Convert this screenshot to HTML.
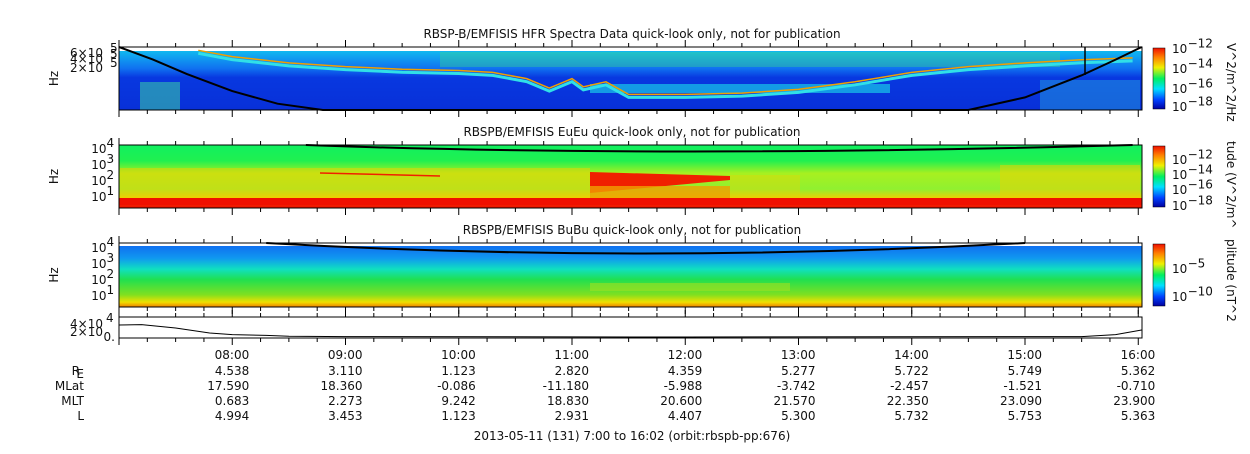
<!DOCTYPE html>
<html><head><meta charset="utf-8"><style>
body{margin:0;background:#fff;width:1250px;height:449px;overflow:hidden;font-family:"Liberation Sans","DejaVu Sans",sans-serif}
svg text{font-family:"DejaVu Sans","Liberation Sans",sans-serif;font-size:12px;fill:#111}
</style></head><body>
<svg id="c" width="1250" height="449" xmlns="http://www.w3.org/2000/svg">
<defs>
<linearGradient id="jet" x1="0" y1="1" x2="0" y2="0">
<stop offset="0" stop-color="#0000a0"/><stop offset="0.15" stop-color="#0040ff"/><stop offset="0.33" stop-color="#00e0ff"/><stop offset="0.5" stop-color="#00f060"/><stop offset="0.68" stop-color="#f0f000"/><stop offset="0.85" stop-color="#ff8000"/><stop offset="1" stop-color="#f01000"/></linearGradient>
<linearGradient id="g1" x1="0" y1="0" x2="0" y2="1">
<stop offset="0" stop-color="#10b8f0"/><stop offset="0.3" stop-color="#1070f0"/><stop offset="0.45" stop-color="#0838e0"/><stop offset="1" stop-color="#0830d8"/></linearGradient>
<linearGradient id="g2" x1="0" y1="0" x2="0" y2="1">
<stop offset="0" stop-color="#10f060"/><stop offset="0.25" stop-color="#20f050"/><stop offset="0.45" stop-color="#a8f020"/><stop offset="0.7" stop-color="#90f030"/><stop offset="0.85" stop-color="#f0d000"/><stop offset="0.9" stop-color="#f03000"/><stop offset="1" stop-color="#f01000"/></linearGradient>
<linearGradient id="g3" x1="0" y1="0" x2="0" y2="1">
<stop offset="0" stop-color="#1070f0"/><stop offset="0.2" stop-color="#1098f0"/><stop offset="0.38" stop-color="#10e0c0"/><stop offset="0.55" stop-color="#20e050"/><stop offset="0.8" stop-color="#80e020"/><stop offset="0.92" stop-color="#f0e000"/><stop offset="1" stop-color="#f08000"/></linearGradient>
</defs>
<g id="plots"></g>
</svg>
<script>
var hours=["08:00","09:00","10:00","11:00","12:00","13:00","14:00","15:00","16:00"];
var hourVals=[1,2,3,4,5,6,7,8,9];
var rE=["4.538","3.110","1.123","2.820","4.359","5.277","5.722","5.749","5.362"];
var mLat=["17.590","18.360","-0.086","-11.180","-5.988","-3.742","-2.457","-1.521","-0.710"];
var mlt=["0.683","2.273","9.242","18.830","20.600","21.570","22.350","23.090","23.900"];
var lVals=["4.994","3.453","1.123","2.931","4.407","5.300","5.732","5.753","5.363"];
// fce curve panel1 (fraction of panel height from top)
var fceT=[0,0.3,0.6,1,1.4,1.8,2.6,7.5,8,8.5,8.8,9.03];
var fceV=[-0.05,0.2,0.43,0.7,0.9,1.0,1.1,1.1,0.8,0.45,0.2,0.0];
// upper-hybrid line panel1 (fraction from top)
var uhT=[0.7,1,1.5,2,2.5,3,3.3,3.6,3.8,4.0,4.1,4.3,4.5,5,5.5,6,6.5,7,7.5,8,8.5,8.95];
var uhV=[0.1,0.2,0.3,0.36,0.4,0.42,0.45,0.55,0.7,0.55,0.68,0.6,0.8,0.8,0.78,0.72,0.6,0.45,0.36,0.3,0.25,0.22];
// density line panel4 (fraction of 4e4)
var denT=[0,0.2,0.5,0.8,1,1.3,1.5,2,5,8.5,8.8,9.03];
var denV=[0.6,0.62,0.45,0.2,0.12,0.08,0.04,0.02,0.0,0.02,0.12,0.35];
var X0=119,X1=1142,T1=9.033;
function sx(t){return X0+(X1-X0)*t/T1;}
var G=document.getElementById('plots'),NS="http://www.w3.org/2000/svg";
function el(tag,a,par){var e=document.createElementNS(NS,tag);for(var k in a)e.setAttribute(k,a[k]);(par||G).appendChild(e);return e;}
function tx(s,x,y,anc,size,par){var t=el('text',{x:x,y:y,'text-anchor':anc||'start'},par);if(size)t.setAttribute('font-size',size);t.textContent=s;return t;}
function pw(base,exp,xr,y,size){ // right-aligned power label ending at xr
  var es=size*0.8;var ew=exp.length*es*0.62;
  tx(base,xr-ew,y,'end',size);tx(exp,xr-ew,y-size*0.45,'start',es);}
function pwl(base,exp,x,y,size){tx(base,x,y,'start',size);tx(exp,x+size*1.3,y-size*0.45,'start',size*0.8);}
var panels=[{y:47,h:63,fill:'url(#g1)',top:51,title:"RBSP-B/EMFISIS  HFR Spectra Data quick-look only, not for publication",cb:"V^2/m^2/Hz",name:'hfr-spectra-panel'},
{y:145,h:63,fill:'url(#g2)',top:145,title:"RBSPB/EMFISIS  EuEu quick-look only, not for publication",cb:"tude (V^2/m^",name:'eueu-panel'},
{y:243,h:64,fill:'url(#g3)',top:246,title:"RBSPB/EMFISIS  BuBu quick-look only, not for publication",cb:"plitude (nT^2",name:'bubu-panel'}];
panels.forEach(function(p,i){
  var g=el('g',{});
  
  
  el('rect',{x:X0,y:p.top,width:X1-X0,height:p.y+p.h-p.top,fill:p.fill},g);
  var t=tx(p.title,632,p.y-9,'middle',12,g);
  
  
  var cb=el('rect',{x:1153,y:p.y+1,width:12,height:p.h-2,fill:'url(#jet)',stroke:'#000','stroke-width':0.5},g);
  
  
  var ct=tx(p.cb,0,0,'start',12,g);
  ct.setAttribute('transform','translate(1227,'+(p.y-4)+') rotate(90)');
  
  
  var hz=tx('Hz',0,0,'middle',12,g);hz.setAttribute('transform','translate(58,'+(p.y+p.h/2)+') rotate(-90)');
  
  
});
// panel1 details
(function(){
  var p=panels[0],ph=p.h;
  el('rect',{x:590,y:84,width:300,height:9,fill:'#18c8e8',opacity:0.7});
  el('rect',{x:440,y:52,width:620,height:15,fill:'#40e080',opacity:0.35});
  el('rect',{x:140,y:82,width:40,height:28,fill:'#40e0a0',opacity:0.5});
  el('rect',{x:1040,y:80,width:100,height:30,fill:'#30c8e0',opacity:0.35});
  var d='';uhT.forEach(function(t,k){d+=(k?'L':'M')+sx(t)+','+(p.y+ph*uhV[k]);});
  el('path',{d:d,fill:'none',stroke:'#30e0e8','stroke-width':3});
  el('path',{d:d,fill:'none',stroke:'#f0a000','stroke-width':1.5,transform:'translate(0,-3)'});
  var d2='';fceT.forEach(function(t,k){d2+=(k?'L':'M')+sx(t)+','+Math.min(p.y+ph,Math.max(p.y,p.y+ph*fceV[k]));});
  el('path',{d:d2,fill:'none',stroke:'#000','stroke-width':2});
  el('line',{x1:1085,y1:47,x2:1085,y2:75,stroke:'#000','stroke-width':1.5});
})();
// panel2 details
(function(){
  el('rect',{x:120,y:168,width:470,height:30,fill:'#f0d000',opacity:0.5});
  el('rect',{x:730,y:175,width:70,height:23,fill:'#f0d000',opacity:0.35});
  el('rect',{x:1000,y:165,width:140,height:33,fill:'#f0d000',opacity:0.5});
  el('path',{d:'M590,172 L730,176 L730,180 L590,193Z',fill:'#f02000'});
  el('rect',{x:590,y:186,width:140,height:12,fill:'#f0a000',opacity:0.8});
  el('line',{x1:320,y1:173,x2:440,y2:176,stroke:'#f02000','stroke-width':1.5});
  el('rect',{x:X0,y:198,width:X1-X0,height:7,fill:'#f01000'});
  el('path',{d:'M'+sx(1.65)+',145 Q'+sx(4.8)+',158 '+sx(8.95)+',145',fill:'none',stroke:'#000','stroke-width':2});
})();
// panel3
(function(){
  el('rect',{x:590,y:283,width:200,height:8,fill:'#a0e020',opacity:0.6});
  el('path',{d:'M'+sx(1.3)+',243 Q'+sx(4.6)+',264 '+sx(8.0)+',243',fill:'none',stroke:'#000','stroke-width':2});
})();
// frames and ticks
[[47,110],[145,208],[243,307],[317,338]].forEach(function(b){
  el('rect',{x:X0,y:b[0],width:X1-X0,height:b[1]-b[0],fill:'none',stroke:'#000','stroke-width':1});
  for(var m=0;m<=T1*4;m++){var x=sx(m/4),big=(m%4==0);
    el('line',{x1:x,y1:b[1],x2:x,y2:b[1]+(big?7:4),stroke:'#000'});
    el('line',{x1:x,y1:b[0],x2:x,y2:b[0]-(big?7:4),stroke:'#000'});}
});
// y tick labels
tx('6×10',103,57,'end',11);tx('4×10',103,63,'end',11);tx('2×10',103,72,'end',11);
tx('5',110,52,'start',9);tx('5',110,58,'start',9);tx('5',110,67,'start',9);
[[147,"4"],[163,"3"],[179,"2"],[195,"1"]].forEach(function(a){pw('10',a[1],113,a[0]+6,13);});
[[246,"4"],[262,"3"],[278,"2"],[294,"1"]].forEach(function(a){pw('10',a[1],113,a[0]+6,13);});
[[53,"−12"],[73,"−14"],[93,"−16"],[111,"−18"]].forEach(function(a){pwl('10',a[1],1172,a[0],12);});
[[164,"−12"],[179,"−14"],[194,"−16"],[210,"−18"]].forEach(function(a){pwl('10',a[1],1172,a[0],12);});
[[273,"−5"],[301,"−10"]].forEach(function(a){pwl('10',a[1],1172,a[0],12);});
tx('4×10',103,328,'end',11);tx('4',106,322,'start',9);tx('2×10',103,336,'end',11);tx('0.',115,341,'end',11);
var dd='';denT.forEach(function(t,k){dd+=(k?'L':'M')+sx(t)+','+(337-20*denV[k]);});
var dl=el('path',{d:dd,fill:'none',stroke:'#000','stroke-width':1});


var rowsY=[359,375,390,405,420];
hourVals.forEach(function(h,k){var x=sx(h)+17;
  tx(hours[k],x,rowsY[0],'end',12.5);tx(rE[k],x,rowsY[1],'end',12.5);tx(mLat[k],x,rowsY[2],'end',12.5);tx(mlt[k],x,rowsY[3],'end',12.5);tx(lVals[k],x,rowsY[4],'end',12.5);});
tx('R',80,rowsY[1],'end',12.5);tx('E',84,rowsY[1]+3,'end',5);tx('MLat',84,rowsY[2],'end',12.5);tx('MLT',84,rowsY[3],'end',12.5);tx('L',84,rowsY[4],'end',12.5);
var ft=tx('2013-05-11 (131) 7:00 to 16:02 (orbit:rbspb-pp:676)',632,440,'middle',12.5);


</script>
</body></html>
